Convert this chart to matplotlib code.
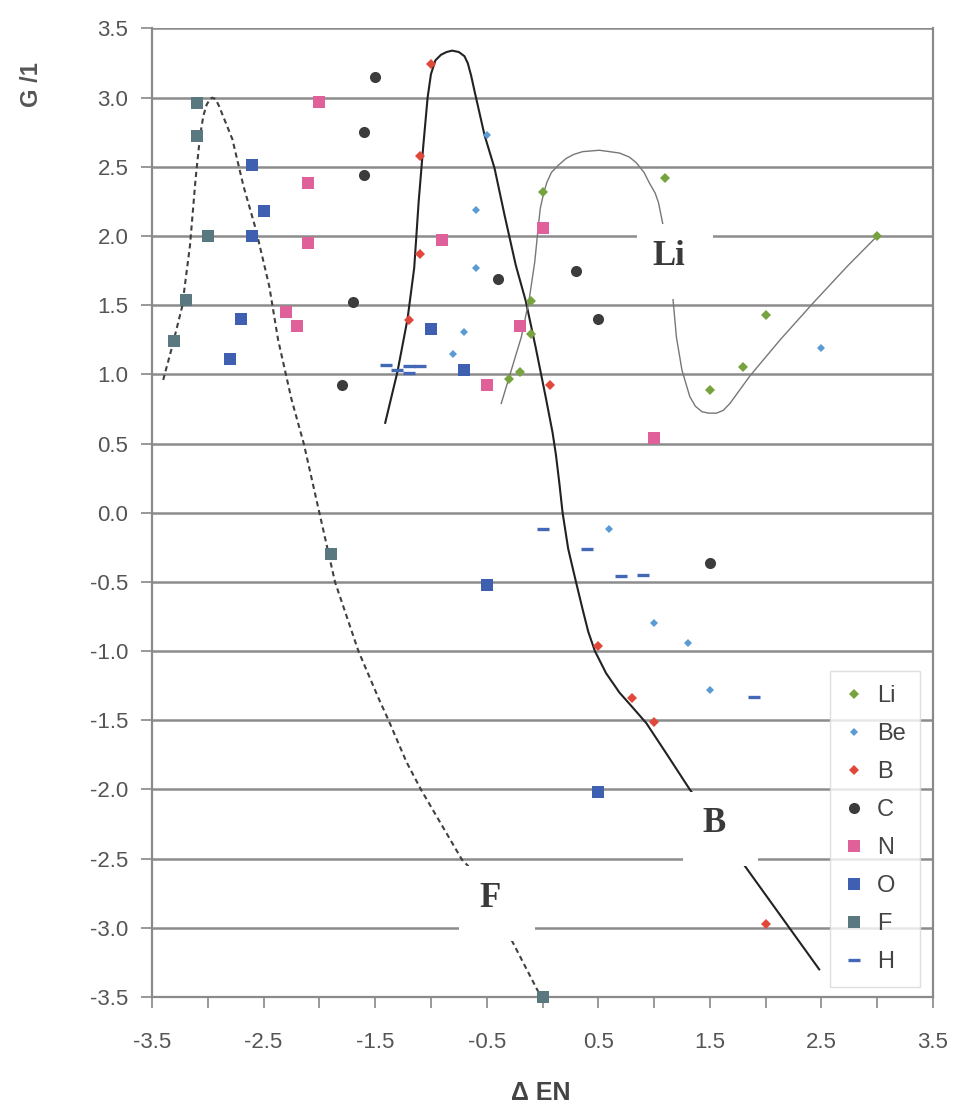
import matplotlib
matplotlib.use("Agg")
import matplotlib.pyplot as plt
from matplotlib.patches import Rectangle

plt.rcParams['font.family'] = ['Liberation Sans', 'DejaVu Sans']
plt.rcParams['axes.unicode_minus'] = False

# element series: delta EN vs G/1
li_x = [-0.3, -0.2, -0.1, -0.1, 0.0, 1.1, 1.5, 1.8, 2.0, 3.0]
li_y = [0.97, 1.02, 1.29, 1.53, 2.32, 2.42, 0.89, 1.05, 1.43, 2.0]

be_x = [-0.8, -0.7, -0.6, -0.6, -0.5, 0.6, 1.0, 1.3, 1.5, 2.5]
be_y = [1.15, 1.31, 1.77, 2.19, 2.73, -0.12, -0.8, -0.94, -1.28, 1.19]

b_x = [-1.2, -1.1, -1.1, -1.0, 0.07, 0.5, 0.8, 1.0, 2.0]
b_y = [1.39, 1.87, 2.58, 3.24, 0.92, -0.96, -1.34, -1.51, -2.97]

c_x = [-1.8, -1.7, -1.6, -1.6, -1.5, -0.4, 0.3, 0.5, 1.5]
c_y = [0.92, 1.52, 2.44, 2.75, 3.15, 1.69, 1.75, 1.40, -0.36]

n_x = [-2.3, -2.2, -2.1, -2.1, -2.0, -0.9, -0.5, -0.2, 0.0, 1.0]
n_y = [1.45, 1.35, 1.95, 2.38, 2.97, 1.97, 0.92, 1.35, 2.06, 0.54]

o_x = [-2.8, -2.7, -2.6, -2.6, -2.5, -1.0, -0.7, -0.5, 0.5]
o_y = [1.11, 1.40, 2.0, 2.51, 2.18, 1.33, 1.03, -0.52, -2.02]

f_x = [-3.3, -3.2, -3.1, -3.1, -3.0, -1.9, 0.0]
f_y = [1.24, 1.54, 2.72, 2.96, 2.0, -0.3, -3.5]

h_x = [-1.4, -1.3, -1.2, -1.2, -1.1, 0.0, 0.4, 0.7, 0.9, 1.9]
h_y = [1.07, 1.03, 1.06, 1.01, 1.06, -0.12, -0.26, -0.46, -0.45, -1.33]

# hand drawn guide curves
curve_f_x = [-3.40, -3.32, -3.23, -3.16, -3.11, -3.07, -3.04, -3.01, -2.98, -2.96, -2.93,
             -2.90, -2.86, -2.78, -2.68, -2.57, -2.45, -2.37, -2.25, -2.14, -2.0, -1.86,
             -1.65, -1.47, -1.38, -1.22, -1.09, -0.72, -0.67, -0.27, -0.02]
curve_f_y = [0.96, 1.20, 1.49, 1.93, 2.41, 2.72, 2.87, 2.95, 2.99, 3.0, 2.99,
             2.94, 2.86, 2.70, 2.36, 2.05, 1.64, 1.25, 0.82, 0.50, 0.0, -0.50,
             -1.0, -1.34, -1.5, -1.8, -2.0, -2.51, -2.55, -3.10, -3.49]

curve_b_x = [-1.41, -1.30, -1.21, -1.15, -1.11, -1.07, -1.03, -1.00, -0.96, -0.91, -0.86,
             -0.81, -0.75, -0.70, -0.67, -0.64, -0.61, -0.52, -0.43, -0.34, -0.24, -0.15,
             -0.06, 0.03, 0.09, 0.12, 0.15, 0.18, 0.23, 0.30, 0.36, 0.41, 0.47, 0.57,
             0.69, 0.80, 0.93, 1.11, 1.32, 1.82, 2.48]
curve_b_y = [0.65, 1.02, 1.40, 1.77, 2.25, 2.64, 3.0, 3.17, 3.27, 3.31, 3.33,
             3.34, 3.33, 3.30, 3.25, 3.16, 3.05, 2.73, 2.49, 2.15, 1.79, 1.53,
             1.19, 0.83, 0.58, 0.42, 0.22, 0.0, -0.26, -0.50, -0.70, -0.86, -1.0, -1.16,
             -1.30, -1.40, -1.52, -1.74, -2.0, -2.56, -3.30]

curve_li_x = [-0.37, -0.28, -0.19, -0.12, -0.07, -0.04, -0.02, 0.01, 0.04, 0.08, 0.14,
              0.21, 0.28, 0.36, 0.51, 0.69, 0.78, 0.84, 0.91, 0.96, 1.01, 1.04, 1.08,
              1.17, 1.20, 1.25, 1.32, 1.37, 1.43, 1.49, 1.56, 1.62, 1.68, 1.86, 2.13,
              2.43, 2.73, 3.0]
curve_li_y = [0.79, 1.03, 1.27, 1.54, 1.81, 2.05, 2.20, 2.31, 2.39, 2.46, 2.51,
              2.56, 2.59, 2.61, 2.62, 2.60, 2.57, 2.53, 2.46, 2.38, 2.31, 2.24, 2.08,
              1.54, 1.27, 1.03, 0.84, 0.77, 0.73, 0.72, 0.72, 0.74, 0.79, 0.99, 1.25,
              1.52, 1.78, 2.0]


fig = plt.figure(figsize=(9.58, 11.13), dpi=100)
ax = fig.add_axes([0.1587, 0.1042, 0.8152, 0.8702])

ax.set_xlim(-3.5, 3.5)
ax.set_ylim(-3.5, 3.5)

yt = [3.5 - 0.5 * i for i in range(15)]
ax.set_yticks(yt)
ax.set_yticklabels(["{:.1f}".format(v) for v in yt])
xt = [-3.5 + 0.5 * i for i in range(15)]
ax.set_xticks(xt)
ax.set_xticklabels(["{:.1f}".format(v) if i % 2 == 0 else "" for i, v in enumerate(xt)])

ax.tick_params(axis='both', direction='out', length=8, width=1.2, color='#888888',
               labelsize=16, labelcolor='#555555')
ax.tick_params(axis='y', pad=9)
ax.tick_params(axis='x', pad=17)

for sp in ax.spines.values():
    sp.set_color('#8a8a8a')
    sp.set_linewidth(1.6)
ax.spines['top'].set_visible(False)

ax.grid(axis='y', color='#8c8c8c', linewidth=1.8, zorder=0)
ax.set_axisbelow(True)

# guide curves
ax.plot(curve_f_x, curve_f_y, color='#404040', lw=1.5, ls=(0, (2.5, 1.8)), zorder=2,
        solid_joinstyle='round')
ax.plot(curve_b_x, curve_b_y, color='#222222', lw=1.5, zorder=2, solid_joinstyle='round')
ax.plot(curve_li_x, curve_li_y, color='#777777', lw=1.0, zorder=2, solid_joinstyle='round')

# series
ms_sq = 8.0
ax.plot(li_x, li_y, ls='none', marker='D', ms=5.0, color='#76a33e', mew=0, label='Li', zorder=3)
ax.plot(be_x, be_y, ls='none', marker='D', ms=4.4, color='#5b9bd5', mew=0, label='Be', zorder=3)
ax.plot(b_x, b_y, ls='none', marker='D', ms=5.0, color='#e0483a', mew=0, label='B', zorder=3)
ax.plot(c_x, c_y, ls='none', marker='o', ms=8.0, color='#3c3c3c', mew=0, label='C', zorder=3)
ax.plot(n_x, n_y, ls='none', marker='s', ms=ms_sq, color='#e0609a', mew=0, label='N', zorder=3)
ax.plot(o_x, o_y, ls='none', marker='s', ms=ms_sq, color='#3f5fb0', mew=0, label='O', zorder=3)
ax.plot(f_x, f_y, ls='none', marker='s', ms=ms_sq, color='#5a7880', mew=0, label='F',
        zorder=3, clip_on=False)
ax.plot(h_x, h_y, ls='none', marker='_', ms=9, mew=2.4, color='#4468b8', label='H', zorder=3)

# curve labels on white patches
labels = [("Li", 1.19, 1.815), ("B", 1.595, -2.285), ("F", -0.41, -2.825)]
bw, bh = 0.68, 0.54
for txt, cx, cy in labels:
    ax.add_patch(Rectangle((cx - bw / 2, cy - bh / 2), bw, bh, facecolor='white',
                           edgecolor='none', zorder=4))
    ax.text(cx - 0.06, cy + 0.04, txt, ha='center', va='center', fontsize=25,
            fontweight='bold', family='Liberation Serif', color='#3a3a3a', zorder=5)

leg = ax.legend(loc='lower right', bbox_to_anchor=(0.983, 0.010), fontsize=17,
                frameon=True, fancybox=False, edgecolor='#d8d8d8', handlelength=0.9,
                handletextpad=0.5, labelspacing=0.68, borderpad=0.6, borderaxespad=0.0)
for t in leg.get_texts():
    t.set_color('#444444')
leg.set_zorder(10)

fig.text(541 / 958, 1 - 1093 / 1113, "\u0394 EN", ha='center', va='center',
         fontsize=18, fontweight='bold', color='#444444')
fig.text(32 / 958, 1 - 85 / 1113, "G /1", ha='center', va='center', rotation=90,
         fontsize=17, fontweight='bold', color='#555555')

fig.savefig("out.png", dpi=100)
